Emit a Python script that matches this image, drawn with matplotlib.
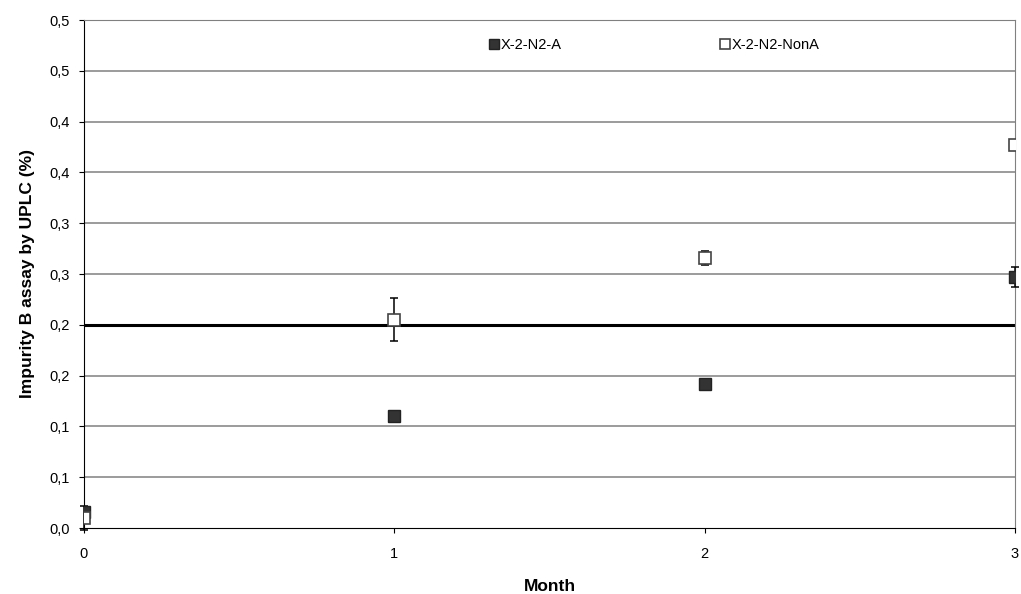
import matplotlib.pyplot as plt
import matplotlib.ticker as ticker

plt.rcParams['font.family'] = ['Liberation Sans', 'DejaVu Sans']

# Stability data (Impurity B, %)
months = [0, 1, 2, 3]
a_values = [0.016, 0.110, 0.142, 0.247]
a_errors = [0.0, 0.0, 0.0, 0.010]
nona_values = [0.010, 0.205, 0.266, 0.377]
nona_errors = [0.012, 0.021, 0.007, 0.0]
limit = 0.2

y_ticks = [0.0, 0.05, 0.1, 0.15, 0.2, 0.25, 0.3, 0.35, 0.4, 0.45, 0.5]

fig = plt.figure(figsize=(10.21, 5.94), dpi=100)
ax = fig.add_axes([84 / 1021, 66 / 594, 931 / 1021, 508 / 594])

# Horizontal gridlines
for y in y_ticks[1:]:
    ax.axhline(y, color="#808080", lw=1.1, zorder=1)

# Specification limit
ax.axhline(limit, color="black", lw=2.2, zorder=2)

# Error bars only where there is a spread
for vals, errs in [(a_values, a_errors), (nona_values, nona_errors)]:
    xs = [m for m, e in zip(months, errs) if e > 0]
    ys = [v for v, e in zip(vals, errs) if e > 0]
    es = [e for e in errs if e > 0]
    ax.errorbar(xs, ys, yerr=es, fmt="none", ecolor="black", elinewidth=1.1,
                capsize=3, capthick=1.1, zorder=3, clip_on=False)

ax.plot(months, a_values, "s", ms=8, mfc="#333333", mec="#222222",
        label="X-2-N2-A", zorder=4)
ax.plot(months, nona_values, "s", ms=8, mfc="white", mec="#444444", mew=1.2,
        label="X-2-N2-NonA", zorder=5)

ax.set_xlim(0, 3)
ax.set_ylim(0, 0.5)
ax.set_xticks(months)
ax.set_yticks(y_ticks)
ax.yaxis.set_major_formatter(ticker.FuncFormatter(
    lambda v, _: f"{v + 1e-9:.1f}".replace(".", ",")))
ax.tick_params(labelsize=10.5, length=3.5, direction="out", color="black")
ax.tick_params(axis="x", pad=10)
ax.tick_params(axis="y", pad=7)

for side in ["top", "right"]:
    ax.spines[side].set_color("#808080")
ax.spines["left"].set_color("black")
ax.spines["bottom"].set_color("black")

ax.set_xlabel("Month", fontsize=12.5, fontweight="bold", labelpad=13)
ax.set_ylabel("Impurity B assay by UPLC (%)", fontsize=12.5, fontweight="bold")
ax.yaxis.set_label_coords(-49 / 931, 0.5)

ax.legend(loc="upper left", bbox_to_anchor=(390 / 931, 0.99), ncol=2, frameon=False,
          fontsize=10.5, handletextpad=0.0, columnspacing=10.8, handlelength=0.9,
          markerscale=0.85)

fig.savefig("out.png", dpi=100)
